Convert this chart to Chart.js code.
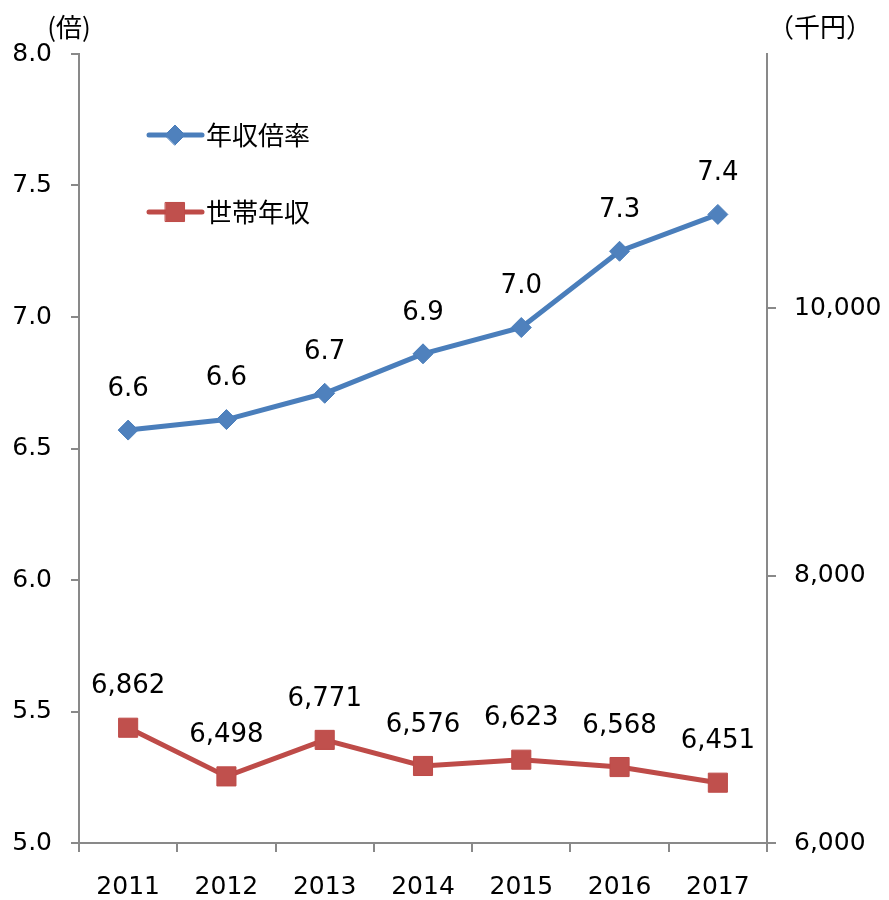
<!DOCTYPE html>
<html lang="ja">
<head>
<meta charset="utf-8">
<title>年収倍率と世帯年収</title>
<script src="https://cdn.jsdelivr.net/npm/chart.js@4.4.0/dist/chart.umd.min.js"></script>
<style>
  body { margin: 0; background: #fff; }
</style>
</head>
<body>
<canvas id="ratioChart" width="889" height="900"></canvas>
<script>
// 年収倍率（左軸・倍）と世帯年収（右軸・千円）
const years = ['2011', '2012', '2013', '2014', '2015', '2016', '2017'];
const ratio = [6.57, 6.61, 6.71, 6.86, 6.96, 7.25, 7.39];
const income = [6862, 6498, 6771, 6576, 6623, 6568, 6451];
const ratioTicks = [5.0, 5.5, 6.0, 6.5, 7.0, 7.5, 8.0];
const incomeTicks = [6000, 8000, 10000];
const seriesNames = ['年収倍率', '世帯年収'];

const numFont = '"DejaVu Sans", Verdana, sans-serif';
const jpFont = '"Noto Sans CJK JP", sans-serif';
const axisColor = '#898989';

const labelFormats = [
  v => v.toFixed(1),
  v => v.toLocaleString('en-US')
];

// 各点の上に値を表示
const pointLabels = {
  id: 'pointLabels',
  afterDatasetsDraw(chart) {
    const ctx = chart.ctx;
    ctx.save();
    ctx.font = '26px ' + numFont;
    ctx.fillStyle = '#000';
    ctx.textAlign = 'center';
    ctx.textBaseline = 'middle';
    chart.data.datasets.forEach((ds, i) => {
      chart.getDatasetMeta(i).data.forEach((pt, j) => {
        ctx.fillText(labelFormats[i](ds.data[j]), pt.x, pt.y - 41);
      });
    });
    ctx.restore();
  }
};

// 凡例（グラフ内左上）と軸の単位
const innerLegend = {
  id: 'innerLegend',
  afterDraw(chart) {
    const ctx = chart.ctx;
    ctx.save();
    chart.data.datasets.forEach((ds, i) => {
      const y = 135 + i * 77;
      ctx.strokeStyle = ds.borderColor;
      ctx.lineWidth = ds.borderWidth;
      ctx.lineCap = 'round';
      ctx.beginPath();
      ctx.moveTo(149, y);
      ctx.lineTo(202, y);
      ctx.stroke();
      ctx.fillStyle = ds.pointBackgroundColor;
      ctx.strokeStyle = ds.pointBorderColor;
      ctx.lineWidth = ds.pointBorderWidth;
      Chart.helpers.drawPoint(ctx, {
        pointStyle: ds.pointStyle,
        radius: ds.pointRadius,
        rotation: 0,
        borderWidth: ds.pointBorderWidth
      }, 175, y);
      ctx.fillStyle = '#000';
      ctx.font = '26px ' + jpFont;
      ctx.textAlign = 'left';
      ctx.textBaseline = 'middle';
      ctx.fillText(ds.label, 206, y);
    });
    ctx.font = '26px ' + jpFont;
    ctx.textAlign = 'center';
    ctx.fillText('(倍)', 69, 27);
    ctx.fillText('（千円）', 820, 27);
    ctx.restore();
  }
};

new Chart(document.getElementById('ratioChart'), {
  type: 'line',
  data: {
    labels: years,
    datasets: [
      {
        label: seriesNames[0],
        data: ratio,
        yAxisID: 'y',
        borderColor: '#4A7EBB',
        borderWidth: 5,
        pointStyle: 'rectRot',
        pointRadius: 10,
        pointBackgroundColor: '#4F81BD',
        pointBorderColor: '#4A7EBB',
        pointBorderWidth: 1,
        tension: 0
      },
      {
        label: seriesNames[1],
        data: income,
        yAxisID: 'y1',
        borderColor: '#BE4B48',
        borderWidth: 5,
        pointStyle: 'rect',
        pointRadius: 13.5,
        pointBackgroundColor: '#C0504D',
        pointBorderColor: '#BE4B48',
        pointBorderWidth: 1,
        tension: 0
      }
    ]
  },
  options: {
    responsive: false,
    animation: false,
    layout: { padding: { top: 54, left: 0, right: 0, bottom: 0 } },
    plugins: {
      legend: { display: false },
      tooltip: { enabled: false }
    },
    scales: {
      x: {
        offset: true,
        afterFit(s) { s.height = 57; },
        border: { color: axisColor, width: 2 },
        grid: { offset: true, drawOnChartArea: false, color: axisColor, lineWidth: 2, tickLength: 9 },
        ticks: { color: '#000', font: { family: numFont, size: 25 }, padding: 20, maxRotation: 0 }
      },
      y: {
        position: 'left',
        min: ratioTicks[0],
        max: ratioTicks[ratioTicks.length - 1],
        afterFit(s) { s.width = 79; },
        afterBuildTicks(s) { s.ticks = ratioTicks.map(v => ({ value: v })); },
        border: { color: axisColor, width: 2 },
        grid: { drawOnChartArea: false, color: axisColor, lineWidth: 2, tickLength: 8 },
        ticks: {
          color: '#000',
          font: { family: numFont, size: 25 },
          padding: 19,
          callback: v => v.toFixed(1)
        }
      },
      y1: {
        position: 'right',
        min: 6000,
        max: 11900,
        afterFit(s) { s.width = 122; },
        afterBuildTicks(s) { s.ticks = incomeTicks.map(v => ({ value: v })); },
        border: { color: axisColor, width: 2 },
        grid: { drawOnChartArea: false, color: axisColor, lineWidth: 2, tickLength: 9 },
        ticks: {
          color: '#000',
          font: { family: numFont, size: 25 },
          padding: 18,
          callback: v => v.toLocaleString('en-US')
        }
      }
    }
  },
  plugins: [pointLabels, innerLegend]
});
</script>
</body>
</html>
